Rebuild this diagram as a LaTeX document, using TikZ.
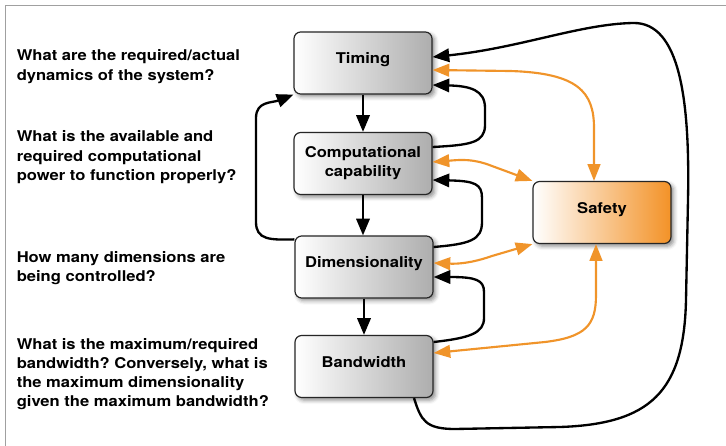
\documentclass[tikz,border=0pt]{standalone}
\usepackage{fontspec}
\setmainfont{TeX Gyre Heros}[FakeStretch=1.12]
\usetikzlibrary{arrows.meta,shadows.blur}
\definecolor{org}{HTML}{F0942A}
\definecolor{safor}{HTML}{F39227}
\definecolor{framegray}{HTML}{A0A0A0}
\frenchspacing
\begin{document}
\begin{tikzpicture}[x=0.75pt,y=-0.75pt,
  txt/.style={font=\fontsize{11.1}{14.3}\selectfont\bfseries, align=left, inner sep=0pt, anchor=north west},
  box/.style={draw=black!85, line width=0.9pt, rounded corners=5pt,
    minimum width=103.5pt, minimum height=46.5pt,
    left color=white, right color=black!32,
    font=\fontsize{11.1}{14.3}\selectfont\bfseries, align=center,
    blur shadow={shadow xshift=2pt, shadow yshift=-2pt, shadow blur radius=3pt, shadow opacity=45}},
  oneline/.style={text height=7.6pt, text depth=6.4pt},
  blk/.style={line width=1.75pt, -{Triangle[length=12.5pt,width=10pt]}},
  ora/.style={color=org, line width=1.6pt, {Triangle[length=12.5pt,width=9.5pt]}-{Triangle[length=12.5pt,width=9.5pt]}}
]
\useasboundingbox (0,0) rectangle (726,446);
\draw[framegray, line width=1.1pt] (5.5,446) -- (5.5,5.5) -- (726,5.5);

% question texts
\node[txt] (q1) at (16.5,49.7) {What are the required/actual\\dynamics of the system?};
\node[txt] (q2) at (16.5,130.7) {What is the available and\\required computational\\power to function properly?};
\node[txt] (q3) at (16.5,251) {How many dimensions are\\being controlled?};
\node[txt] (q4) at (16.5,338) {What is the maximum/required\\bandwidth? Conversely, what is\\the maximum dimensionality\\given the maximum bandwidth?};

% boxes
\node[box, oneline] (T) at (363,63) {Timing};
\node[box] (C) at (363,163.5) {Computational\\capability};
\node[box, oneline] (D) at (364,267) {Dimensionality};
\node[box, oneline] (B) at (364,366.5) {Bandwidth};
\node[box, oneline, right color=safor] (S) at (602,212.5) {Safety};

% vertical flow
\draw[blk] (T.south) -- (C.north);
\draw[blk] (C.south) -- (C.south |- D.north);
\draw[blk] (D.south) -- (B.north);

% left loop
\draw[blk] ([yshift=-3pt]D.north west) .. controls (270,240) and (256,240) .. (256,222)
  -- (256,118) .. controls (256,101) and (272,103) .. (T.south west);

% right loops
\draw[blk] (C.east |- 0,147) .. controls (470,145) and (485,143) .. (485,125)
  -- (485,108) .. controls (485,90) and (470,86) .. (T.east |- 0,85);
\draw[blk] (D.east |- 0,247) .. controls (470,244) and (482,240) .. (482,222)
  -- (482,198) .. controls (482,184) and (475,181) .. (C.east |- 0,180);
\draw[blk] (B.east |- 0,342) .. controls (470,338) and (484,333) .. (484,318)
  -- (484,292) .. controls (484,280) and (476,277) .. (D.east |- 0,277);

% big outer loop
\draw[blk] (B.south -| 414,0) .. controls (421,420) and (425,429) .. (455,429)
  -- (560,427) .. controls (650,424) and (684,392) .. (686,300)
  -- (688,200) .. controls (690,100) and (680,22) .. (633,23)
  .. controls (580,24) and (520,48) .. (T.east |- 0,57);

% safety links
\draw[ora] (T.east |- 0,70) -- (510,71) .. controls (578,73) and (594,92) .. (594,128)
  -- (S.north -| 594,0);
\draw[ora] (C.east |- 0,162) .. controls (458,160) and (472,158) .. (492,166) -- (S.north west);
\draw[ora] (D.east |- 0,263) .. controls (458,264) and (472,263) .. (492,256) -- (S.south west);
\draw[ora] (B.east |- 0,353) -- (545,342) .. controls (586,337) and (596,325) .. (596,295)
  -- (S.south -| 596,0);
\end{tikzpicture}
\end{document}
